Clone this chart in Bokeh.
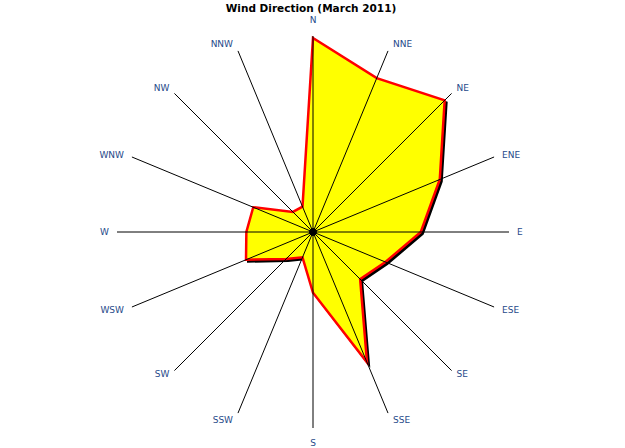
import numpy as np
from bokeh.plotting import figure
from bokeh.models import ColumnDataSource
from bokeh.embed import file_html
from bokeh.resources import INLINE
from bokeh.core.properties import value

# ---- data ----
directions = ["N", "NNE", "NE", "ENE", "E", "ESE", "SE", "SSE",
              "S", "SSW", "SW", "WSW", "W", "WNW", "NW", "NNW"]
frequency = [9.9, 8.5, 9.5, 7.0, 5.5, 4.0, 3.4, 7.2,
             3.1, 1.4, 1.95, 3.7, 3.4, 3.3, 1.45, 1.4]
r_max = 10
title_text = "Wind Direction (March 2011)"

# ---- layout ----
W, H = 625, 448
cx, cy = 312.5, 231.5          # centre in figure pixels (from left / from top)
R_px = 196
ppu = R_px / r_max             # pixels per data unit

p = figure(width=W, height=H, output_backend="svg", toolbar_location=None,
           x_range=(-cx / ppu, (W - cx) / ppu),
           y_range=(-(H - cy) / ppu, cy / ppu),
           x_axis_type=None, y_axis_type=None, min_border=0)
p.grid.visible = False
p.outline_line_color = None
p.background_fill_color = "white"
p.border_fill_color = "white"

n = len(directions)
theta = np.deg2rad(np.arange(n) * 360.0 / n)
sx, sy = np.sin(theta), np.cos(theta)

vals = np.array(frequency, dtype=float)
px = vals * sx
py = vals * sy

# shadow (offset 2px right, 2px down)
d = 2.0 / ppu
p.patch(list(px + d), list(py - d), fill_color="black", line_color="black",
        line_width=2, line_join="miter")
# main polygon
p.patch(list(px), list(py), fill_color="#FFFF00", line_color="#FF0000",
        line_width=2.5, line_join="miter")

# spokes
ex, ey = r_max * sx, r_max * sy
p.segment(x0=[0] * n, y0=[0] * n, x1=list(ex), y1=list(ey),
          line_color="black", line_width=1)

# centre dot
p.scatter(x=[0], y=[0], size=7, color="black")

# direction labels
aligns, bases, xo, yo = [], [], [], []
for s_x, s_y in zip(sx, sy):
    if abs(s_x) < 0.2:
        aligns.append("center"); xo.append(0)
    elif s_x > 0:
        aligns.append("left"); xo.append(5 if abs(s_y) > 0.5 else 8)
    else:
        aligns.append("right"); xo.append(-5 if abs(s_y) > 0.5 else -8)
    if abs(s_y) < 0.5:
        bases.append("middle")
        yo.append(0 if abs(s_y) < 0.2 else (-2 if s_y > 0 else 3))
    elif s_y > 0:
        bases.append("bottom")
        yo.append(-11 if abs(s_x) < 0.2 else (-2 if abs(s_y) > 0.9 else 0))
    else:
        bases.append("top")
        yo.append(10 if abs(s_x) < 0.2 else (2 if abs(s_y) > 0.9 else -2))

lab = ColumnDataSource(dict(x=list(ex), y=list(ey), t=directions,
                            a=aligns, b=bases, xo=xo, yo=yo))
p.text(x="x", y="y", text="t", source=lab, text_align="a", text_baseline="b",
       x_offset="xo", y_offset="yo", text_font=value("DejaVu Sans"),
       text_font_size="9px", text_color="#1F4A8A")

# title
p.text(x=[0], y=[cy / ppu], text=[title_text], text_align="center",
       text_baseline="top", x_offset=-2, y_offset=1,
       text_font=value("DejaVu Sans"), text_font_style="bold",
       text_font_size="10.5px", text_color="black")

open("out.html", "w").write(file_html(p, INLINE))
